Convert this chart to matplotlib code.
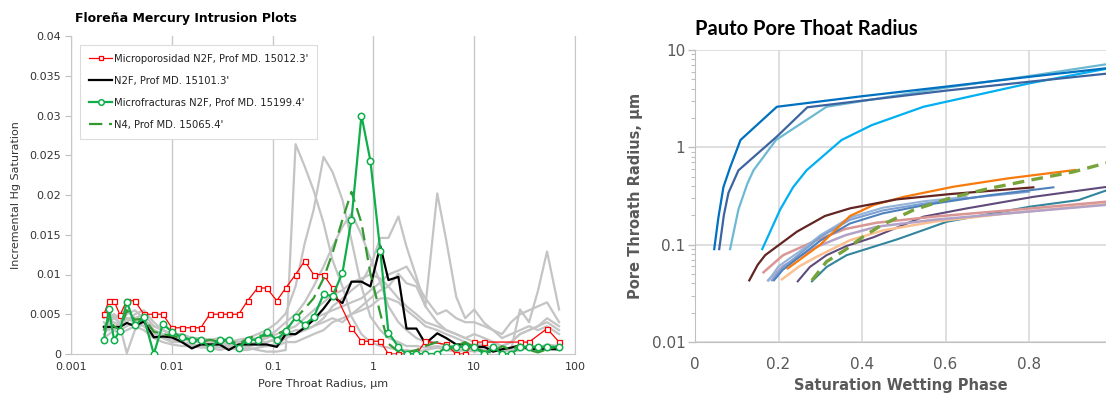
import numpy as np
import matplotlib
matplotlib.use("Agg")
import matplotlib.pyplot as plt
from matplotlib.ticker import FixedLocator, NullFormatter, LogLocator
from matplotlib.lines import Line2D

# ---- left chart data (incremental Hg saturation, in 1/1000) ----
radius = [0.00212, 0.00238, 0.00267, 0.00306, 0.00358, 0.0043, 0.00528, 0.00663, 0.00815, 0.01,
          0.0126, 0.0158, 0.0194, 0.0238, 0.0299, 0.0367, 0.0461, 0.0565, 0.071, 0.0873,
          0.11, 0.135, 0.169, 0.208, 0.255, 0.32, 0.393, 0.493, 0.606, 0.761,
          0.934, 1.17, 1.41, 1.77, 2.13, 2.67, 3.28, 4.3, 5.28, 6.63,
          8.14, 10.0, 12.6, 15.4, 18.9, 23.2, 28.5, 35.0, 43.0, 52.8, 69.5]

nan = np.nan
micropor = [5.0, 6.7, 6.7, 4.9, 6.7, 6.7, 5.0, 5.0, 5.0, 3.3,
            3.3, 3.3, 3.3, 5.0, 5.0, 5.0, 5.0, 6.7, 8.3, 8.3,
            6.7, 8.3, 10.0, 11.7, 10.0, 10.0, 8.3, nan, 3.3, 1.6,
            1.6, 1.6, 0.0, 0.0, 0.0, 0.0, 1.6, nan, 1.2, 0.0,
            0.0, 1.5, 1.5, nan, nan, nan, 1.5, 1.5, nan, 3.2, 1.5]
n2f = [3.4, 3.4, 3.4, 3.4, 3.9, 3.5, 4.1, 2.1, 2.2, 2.1,
       1.5, 0.7, 1.2, 1.2, 1.2, 0.5, 1.2, 1.2, 1.2, 1.2,
       0.9, 2.5, 2.5, 3.3, 4.3, 5.7, 7.2, 6.4, 9.1, 9.1,
       8.5, 13.6, 9.3, 9.7, 3.2, 3.2, 1.3, 2.6, 2.0, 1.2,
       1.2, 0.9, 0.9, 0.3, 0.6, 0.8, 1.1, 0.6, 0.6, 0.6, 0.6]
microfrac = [1.8, 5.6, 1.8, 2.9, 6.6, 3.6, 4.6, 0.0, 3.8, 2.8,
             2.1, 1.8, 1.8, 0.8, 1.8, 1.8, 0.8, 1.8, 1.8, 2.8,
             1.8, 2.9, 4.6, 3.7, 4.6, 7.5, 7.3, 10.2, 16.9, 30.0,
             24.3, 13.0, 2.7, 0.9, 0.0, 0.0, 0.0, 0.0, 0.9, 0.9,
             0.9, 0.9, 0.0, 0.9, 0.0, 0.0, 0.9, 0.9, 0.9, 0.9, 0.9]
n4 = [3.0, 4.5, 3.5, 3.0, 5.5, 4.3, 4.5, 2.8, 2.5, 2.3,
      2.0, 1.8, 1.5, 1.8, 1.5, 1.8, 1.2, 2.0, 2.3, 2.3,
      2.5, 3.0, 4.5, 5.7, 7.0, 9.5, 12.7, 16.9, 20.4, 16.5,
      10.1, 5.1, 1.3, 0.3, 0.2, 0.5, 1.0, 1.5, 0.5, 1.0,
      1.5, 0.8, 0.3, 0.2, 1.0, 0.5, 1.2, 0.5, 0.2, 0.6, 1.0]

# other samples (grey)
grey_a = [3.0, 4.0, 5.0, 3.5, 0.1, 3.0, 4.0, 3.0, 2.5, 2.0,
          1.5, 1.2, 1.0, 1.0, 0.8, 1.0, 0.5, 0.8, 0.5, 0.3,
          0.3, 0.5, 26.4, 23.6, 20.6, 16.5, 11.8, 8.5, 4.7, 2.5,
          1.5, 1.0, 0.8, 0.5, 0.5, 0.3, 0.5, 0.8, 0.5, 0.3,
          0.5, 0.3, 0.5, 0.3, 0.5, 0.3, 0.5, 0.8, 0.5, 1.0, 0.8]
grey_b = [4.5, 5.5, 4.5, 5.0, 5.5, 4.5, 5.0, 3.5, 3.0, 2.5,
          2.5, 2.0, 2.0, 1.8, 2.0, 1.5, 1.8, 2.0, 2.5, 3.0,
          3.9, 5.1, 8.5, 13.9, 18.1, 24.8, 22.9, 19.4, 14.3, 8.5,
          4.7, 3.0, 2.0, 1.5, 1.0, 1.0, 0.8, 1.0, 0.8, 0.5,
          0.5, 0.5, 0.8, 0.5, 0.3, 0.5, 0.8, 1.0, 0.8, 1.2, 1.0]
grey_c = [3.5, 4.0, 4.5, 4.0, 5.0, 5.5, 4.5, 3.0, 2.5, 2.0,
          2.0, 1.5, 1.5, 1.2, 1.5, 1.2, 1.0, 1.2, 1.5, 1.5,
          1.8, 2.5, 2.5, 3.0, 3.5, 4.5, 6.0, 7.0, 8.0, 9.0,
          11.0, 14.6, 14.6, 17.3, 13.5, 9.7, 6.0, 4.0, 3.0, 2.5,
          2.0, 2.5, 2.0, 1.5, 1.0, 1.5, 2.5, 3.0, 3.5, 4.0, 3.0]
grey_d = [2.5, 3.5, 3.0, 4.0, 4.5, 4.0, 3.5, 2.5, 2.0, 1.8,
          1.5, 1.2, 1.0, 1.0, 1.2, 1.0, 1.2, 1.0, 1.2, 1.5,
          2.0, 2.5, 3.0, 3.0, 3.5, 4.0, 4.5, 4.0, 5.0, 6.0,
          7.0, 8.0, 8.5, 10.1, 8.9, 8.5, 6.0, 20.2, 14.3, 7.2,
          4.5, 5.6, 3.9, 3.0, 2.0, 2.5, 3.0, 3.5, 3.0, 3.5, 2.5]
grey_e = [4.0, 3.5, 5.0, 4.5, 4.0, 5.0, 5.5, 4.0, 3.0, 2.5,
          2.0, 2.0, 1.5, 1.5, 1.8, 1.5, 1.5, 1.8, 2.0, 2.0,
          2.5, 3.0, 3.5, 4.5, 5.5, 6.5, 7.5, 8.0, 9.0, 9.5,
          10.0, 9.5, 8.5, 7.0, 6.0, 5.0, 4.0, 3.5, 3.0, 2.5,
          2.0, 1.5, 1.0, 0.5, 1.0, 0.5, 5.6, 4.0, 8.0, 12.9, 5.6]
grey_f = [3.0, 3.0, 3.5, 3.0, 3.5, 4.0, 3.5, 2.5, 2.0, 1.5,
          1.5, 1.0, 1.2, 1.0, 1.0, 0.8, 1.0, 1.0, 1.5, 2.0,
          3.0, 4.0, 5.0, 6.5, 8.5, 11.0, 13.5, 16.0, 17.7, 15.0,
          12.0, 9.0, 6.0, 4.0, 3.0, 2.0, 1.5, 1.5, 1.0, 1.0,
          0.8, 0.5, 0.8, 0.5, 0.5, 0.3, 0.5, 0.8, 1.0, 0.8, 0.5]
grey_g = [2.0, 2.5, 3.0, 2.5, 3.0, 3.5, 3.0, 2.0, 1.5, 1.2,
          1.0, 1.0, 0.8, 0.8, 0.5, 0.8, 0.5, 0.5, 0.8, 1.0,
          1.2, 2.0, 2.5, 3.5, 4.5, 5.0, 5.5, 6.0, 6.5, 7.0,
          8.0, 9.0, 10.0, 10.5, 11.0, 9.0, 7.0, 5.0, 5.5, 4.5,
          4.0, 4.0, 3.5, 3.0, 2.5, 4.0, 5.0, 5.5, 6.0, 6.5, 4.0]
grey_h = [3.5, 4.0, 4.0, 3.5, 4.5, 4.5, 4.0, 3.5, 3.0, 2.5,
          2.5, 2.0, 1.5, 1.5, 1.2, 1.5, 1.2, 1.0, 1.2, 1.0,
          1.0, 1.5, 1.5, 2.0, 2.5, 3.0, 4.0, 4.5, 5.0, 5.5,
          6.0, 7.0, 7.0, 6.5, 5.5, 4.5, 3.5, 3.0, 2.5, 2.0,
          1.5, 1.0, 1.0, 0.8, 1.0, 1.5, 2.5, 3.0, 3.5, 4.5, 3.5]
greys = [grey_a, grey_b, grey_c, grey_d, grey_e, grey_f, grey_g, grey_h]

# ---- right chart data (saturation wetting phase vs pore throat radius, um) ----
sw_1 = [0.046, 0.056, 0.068, 0.084, 0.109, 0.196, 0.40, 0.60, 0.80, 1.0]
r_1 = [0.09, 0.19, 0.39, 0.62, 1.19, 2.61, 3.35, 4.2, 5.3, 6.6]
sw_2 = [0.058, 0.069, 0.080, 0.104, 0.196, 0.269, 0.60, 0.80, 1.0]
r_2 = [0.09, 0.2, 0.34, 0.58, 1.29, 2.58, 3.82, 4.72, 5.8]
sw_3 = [0.084, 0.104, 0.125, 0.140, 0.194, 0.315, 0.60, 0.80, 1.0]
r_3 = [0.09, 0.23, 0.42, 0.58, 1.19, 2.61, 4.1, 5.4, 7.3]
sw_4 = [0.161, 0.204, 0.235, 0.267, 0.351, 0.423, 0.547, 0.80, 1.0]
r_4 = [0.09, 0.23, 0.39, 0.58, 1.19, 1.69, 2.61, 4.54, 6.6]
sw_brown = [0.130, 0.150, 0.168, 0.244, 0.311, 0.371, 0.483, 0.611, 0.81]
r_brown = [0.043, 0.062, 0.078, 0.136, 0.197, 0.236, 0.292, 0.331, 0.388]
sw_orange = [0.222, 0.30, 0.371, 0.427, 0.50, 0.619, 0.75, 0.91]
r_orange = [0.057, 0.10, 0.197, 0.255, 0.31, 0.394, 0.48, 0.585]
sw_dash = [0.280, 0.315, 0.359, 0.403, 0.447, 0.523, 0.62, 0.707, 0.802, 0.906, 1.0]
r_dash = [0.043, 0.067, 0.088, 0.121, 0.159, 0.227, 0.31, 0.38, 0.46, 0.56, 0.72]
sw_purple = [0.246, 0.275, 0.315, 0.363, 0.427, 0.547, 0.651, 0.81, 1.0]
r_purple = [0.042, 0.059, 0.078, 0.097, 0.119, 0.194, 0.236, 0.31, 0.40]
sw_teal = [0.280, 0.315, 0.363, 0.483, 0.603, 0.80, 0.918, 1.0]
r_teal = [0.042, 0.059, 0.078, 0.113, 0.172, 0.245, 0.287, 0.38]
sw_blue_a = [0.189, 0.21, 0.25, 0.30, 0.371, 0.45, 0.55, 0.70, 0.858]
r_blue_a = [0.043, 0.055, 0.075, 0.11, 0.165, 0.21, 0.255, 0.32, 0.388]
sw_blue_b = [0.184, 0.21, 0.25, 0.30, 0.371, 0.45, 0.55, 0.65, 0.80]
r_blue_b = [0.043, 0.058, 0.08, 0.12, 0.18, 0.225, 0.265, 0.30, 0.35]
sw_blue_c = [0.176, 0.20, 0.25, 0.30, 0.371, 0.45, 0.55, 0.65]
r_blue_c = [0.043, 0.06, 0.085, 0.125, 0.19, 0.24, 0.28, 0.31]
sw_lav = [0.175, 0.21, 0.291, 0.36, 0.435, 0.571, 0.75, 1.0]
r_lav = [0.043, 0.06, 0.095, 0.125, 0.153, 0.18, 0.21, 0.26]
sw_pink = [0.164, 0.211, 0.291, 0.36, 0.435, 0.571, 0.75, 1.0]
r_pink = [0.052, 0.078, 0.111, 0.145, 0.168, 0.194, 0.225, 0.28]
sw_peach = [0.208, 0.25, 0.291, 0.371, 0.45, 0.571, 0.75, 1.0]
r_peach = [0.044, 0.06, 0.075, 0.111, 0.14, 0.172, 0.21, 0.265]


def series(vals):
    x = np.array(radius)
    y = np.array(vals, dtype=float) / 1000.0
    ok = ~np.isnan(y)
    return x[ok], y[ok]


W, H = 1106, 398
fig = plt.figure(figsize=(W / 100, H / 100), dpi=100)
ax1 = fig.add_axes([71 / W, 1 - 354 / H, (575 - 71) / W, (354 - 36) / H])
ax2 = fig.add_axes([695 / W, 1 - 342 / H, (W - 695) / W, (342 - 50) / H])

# ---------------- left: mercury intrusion ----------------
for g in greys:
    ax1.plot(*series(g), color='#c4c4c4', lw=1.6, zorder=2)
ax1.plot(*series(n2f), color='black', lw=1.6, zorder=3)
ax1.plot(*series(micropor), color='#ff0000', lw=0.9, marker='s', ms=3.6,
         mfc='white', mec='#ff0000', mew=0.9, zorder=4)
ax1.plot(*series(n4), color='#339933', lw=1.6, dashes=(6, 3), zorder=5)
ax1.plot(*series(microfrac), color='#0fae4b', lw=1.6, marker='o', ms=4.6,
         mfc='white', mec='#0fae4b', mew=1.1, zorder=6)

ax1.set_xscale('log')
ax1.set_xlim(0.001, 100)
ax1.set_ylim(0, 0.04)
ax1.xaxis.set_major_locator(FixedLocator([0.001, 0.01, 0.1, 1, 10, 100]))
ax1.set_xticklabels(['0.001', '0.01', '0.1', '1', '10', '100'])
ax1.xaxis.set_minor_locator(FixedLocator([]))
ax1.set_yticks(np.arange(0, 0.0401, 0.005))
ax1.set_yticklabels(['0', '0.005', '0.01', '0.015', '0.02', '0.025', '0.03', '0.035', '0.04'])
ax1.tick_params(axis='x', length=0, pad=6, labelsize=8, colors='#333333')
ax1.tick_params(axis='y', length=4, width=0.8, color='#bfbfbf', pad=3, labelsize=8,
                labelcolor='#333333')
ax1.grid(axis='x', color='#c8c8c8', lw=1)
ax1.set_axisbelow(True)
ax1.spines['top'].set_visible(False)
for s in ['left', 'bottom', 'right']:
    ax1.spines[s].set_color('#c8c8c8')
ax1.set_xlabel('Pore Throat Radius, µm', fontsize=8, color='#333333', labelpad=5)
ax1.set_ylabel('Incremental Hg Saturation', fontsize=8, color='#333333', labelpad=6)
ax1.set_title('Floreña Mercury Intrusion Plots', fontsize=9, fontweight='bold',
              loc='left', x=0.008, pad=10)

handles = [
    Line2D([], [], color='#ff0000', lw=0.9, marker='s', ms=3.2, mfc='white', mew=0.9),
    Line2D([], [], color='black', lw=1.6),
    Line2D([], [], color='#0fae4b', lw=1.6, marker='o', ms=4, mfc='white', mew=1.1),
    Line2D([], [], color='#339933', lw=1.6, dashes=(6, 3)),
]
labels = ["Microporosidad N2F, Prof MD. 15012.3'", "N2F, Prof MD. 15101.3'",
          "Microfracturas N2F, Prof MD. 15199.4'", "N4, Prof MD. 15065.4'"]
leg = ax1.legend(handles, labels, loc='upper left', bbox_to_anchor=(0.018, 0.972),
                 borderaxespad=0, fontsize=7.2, labelspacing=1.2, handlelength=2.3,
                 handletextpad=0.2, borderpad=0.9, fancybox=False, framealpha=1,
                 edgecolor='#dcdcdc')
leg.get_frame().set_linewidth(0.8)
for t in leg.get_texts():
    t.set_color('#222222')

# ---------------- right: pore throat radius ----------------
ax2.plot(sw_teal, r_teal, color='#31859c', lw=1.5)
ax2.plot(sw_purple, r_purple, color='#604a7b', lw=1.5)
ax2.plot(sw_peach, r_peach, color='#fac090', lw=1.8)
ax2.plot(sw_lav, r_lav, color='#b3a2c7', lw=1.8)
ax2.plot(sw_pink, r_pink, color='#d99694', lw=1.8)
ax2.plot(sw_blue_c, r_blue_c, color='#95b3d7', lw=1.5)
ax2.plot(sw_blue_b, r_blue_b, color='#7ba0d4', lw=1.5)
ax2.plot(sw_blue_a, r_blue_a, color='#4f81bd', lw=1.5)
ax2.plot(sw_orange, r_orange, color='#f97a0c', lw=1.6)
ax2.plot(sw_brown, r_brown, color='#632523', lw=1.6)
ax2.plot(sw_dash, r_dash, color='#77a33a', lw=2.4, dashes=(3.5, 2.2))
ax2.plot(sw_4, r_4, color='#00b0f0', lw=1.6)
ax2.plot(sw_3, r_3, color='#6db9d3', lw=1.6)
ax2.plot(sw_2, r_2, color='#3c64a0', lw=1.6)
ax2.plot(sw_1, r_1, color='#0070c0', lw=1.6)

ax2.set_yscale('log')
ax2.set_ylim(0.01, 10)
ax2.set_xlim(0, 0.984)
ax2.set_xticks([0, 0.2, 0.4, 0.6, 0.8])
ax2.set_xticklabels(['0', '0.2', '0.4', '0.6', '0.8'])
ax2.yaxis.set_major_locator(FixedLocator([0.01, 0.1, 1, 10]))
ax2.set_yticklabels(['0.01', '0.1', '1', '10'])
ax2.yaxis.set_minor_locator(LogLocator(base=10, subs=np.arange(2, 10)))
ax2.yaxis.set_minor_formatter(NullFormatter())
ax2.tick_params(axis='x', length=0, pad=11, labelsize=11, colors='#595959')
ax2.tick_params(axis='y', which='major', length=5, width=1, color='#bfbfbf', pad=2,
                labelsize=11, labelcolor='#595959')
ax2.tick_params(axis='y', which='minor', length=3, width=0.8, color='#bfbfbf')
ax2.grid(which='major', color='#d9d9d9', lw=1.2)
ax2.set_axisbelow(True)
for s in ['top', 'right']:
    ax2.spines[s].set_visible(False)
for s in ['left', 'bottom']:
    ax2.spines[s].set_color('#bfbfbf')
ax2.set_xlabel('Saturation Wetting Phase', fontsize=10.5, fontweight='bold',
               color='#595959', labelpad=4)
ax2.set_ylabel('Pore Throath Radius, µm', fontsize=10.5, fontweight='bold',
               color='#595959', labelpad=6)
ax2.set_title('Pauto Pore Thoat Radius', fontsize=14.5, fontweight='bold', family='Lato',
              loc='left', x=0.0, pad=11)

fig.savefig('out.png', dpi=100)
